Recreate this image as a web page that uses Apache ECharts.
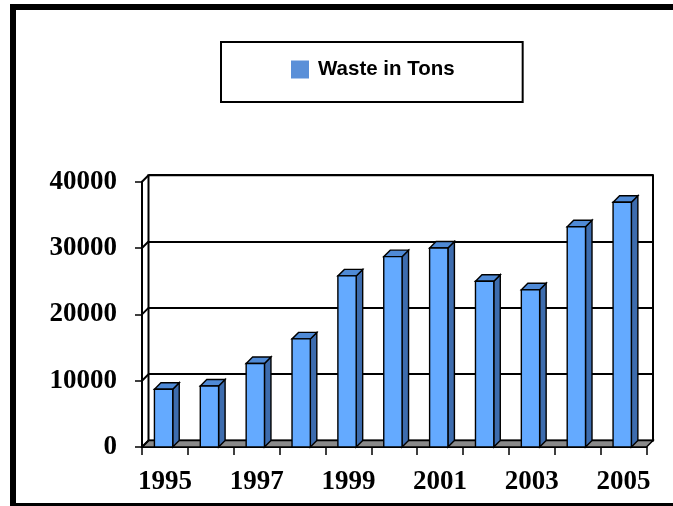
<!DOCTYPE html>
<html>
<head>
<meta charset="utf-8">
<script src="https://cdn.jsdelivr.net/npm/echarts@6/dist/echarts.min.js"></script>
<style>
  html, body { margin: 0; padding: 0; background: #fff; }
  #chart { width: 673px; height: 506px; }
</style>
</head>
<body>
<div id="chart"></div>
<script>
// Yearly waste totals
const years = ['1995', '1996', '1997', '1998', '1999', '2000', '2001', '2002', '2003', '2004', '2005'];
const waste = [8700, 9200, 12600, 16300, 25800, 28700, 30000, 25000, 23700, 33200, 36900];
const yTicks = [0, 10000, 20000, 30000, 40000];
const seriesName = 'Waste in Tons';

// depth of the pseudo-3D box (pixels, up and to the right)
const DEPTH = 6.5;

const chart = echarts.init(document.getElementById('chart'), null, { renderer: 'canvas' });

const axisFont = {
  fontFamily: 'Liberation Serif',
  fontWeight: 'bold',
  fontSize: 27,
  color: '#000'
};

// Left wall diagonals at every gridline, plus the grey floor slab
function renderWall(params, api) {
  const v = api.value(1);
  const bw = api.size([1, 0])[0];
  const p = api.coord([0, v]);
  const xl = p[0] - bw / 2;
  const children = [{
    type: 'line',
    shape: { x1: xl, y1: p[1], x2: xl + DEPTH, y2: p[1] - DEPTH },
    style: { stroke: '#000', lineWidth: 2 }
  }];
  if (v === 0) {
    const pr = api.coord([years.length - 1, 0]);
    const xr = pr[0] + bw / 2;
    children.unshift({
      type: 'polygon',
      shape: { points: [[xl, p[1]], [xr, p[1]], [xr + DEPTH, p[1] - DEPTH], [xl + DEPTH, p[1] - DEPTH]] },
      style: { fill: '#8a8a8a', stroke: '#000', lineWidth: 1.5 }
    });
  }
  return { type: 'group', children: children };
}

// Column drawn as front face, right side and top
function renderBar(params, api) {
  const c = api.coord([api.value(0), api.value(1)]);
  const base = api.coord([api.value(0), 0]);
  const x0 = c[0] - 10.5;
  const x1 = c[0] + 7.8;
  const yt = c[1];
  const yb = base[1];
  const d = DEPTH;
  const edge = { stroke: '#000', lineWidth: 1.4 };
  return {
    type: 'group',
    children: [
      {
        type: 'polygon',
        shape: { points: [[x1, yt], [x1 + d, yt - d], [x1 + d, yb - d], [x1, yb]] },
        style: Object.assign({ fill: '#3d6cae' }, edge)
      },
      {
        type: 'polygon',
        shape: { points: [[x0, yt], [x1, yt], [x1 + d, yt - d], [x0 + d, yt - d]] },
        style: Object.assign({ fill: '#4f8ad6' }, edge)
      },
      {
        type: 'rect',
        shape: { x: x0, y: yt, width: x1 - x0, height: yb - yt },
        style: Object.assign({ fill: '#64aaff' }, edge)
      }
    ]
  };
}

const option = {
  animation: false,
  backgroundColor: '#fff',
  graphic: [{
    type: 'rect',
    z: 100,
    shape: { x: 13, y: 7, width: 700, height: 499 },
    style: { fill: 'none', stroke: '#000', lineWidth: 6 }
  }],
  legend: {
    data: [{ name: seriesName, icon: 'rect', itemStyle: { color: '#5a8fd8' } }],
    left: 221,
    top: 42,
    padding: [17, 68, 22, 70],
    itemWidth: 18,
    itemHeight: 18,
    itemGap: 0,
    borderColor: '#000',
    borderWidth: 2,
    textStyle: {
      fontFamily: 'Liberation Sans',
      fontWeight: 'bold',
      fontSize: 20.5,
      color: '#000',
      padding: [6, 0, 0, 4]
    }
  },
  grid: [
    // front plane: axes, labels, columns
    { left: 142, right: 26.5, top: 181.7, bottom: 59 },
    // back wall: gridlines and frame
    { left: 148.5, right: 20, top: 175.2, bottom: 65.5, show: true, borderColor: '#000', borderWidth: 2, backgroundColor: 'transparent' }
  ],
  xAxis: [
    {
      type: 'category',
      gridIndex: 0,
      data: years,
      boundaryGap: true,
      axisLine: { show: true, lineStyle: { color: '#000', width: 2 } },
      axisTick: { show: true, interval: 0, length: 8, lineStyle: { color: '#000', width: 1.5 } },
      axisLabel: Object.assign({ interval: 1, margin: 22 }, axisFont),
      splitLine: { show: false }
    },
    {
      type: 'category',
      gridIndex: 1,
      data: years,
      show: false
    }
  ],
  yAxis: [
    {
      type: 'value',
      gridIndex: 0,
      min: 0,
      max: 40000,
      interval: 10000,
      axisLine: { show: true, lineStyle: { color: '#000', width: 2 } },
      axisTick: { show: true, length: 7, lineStyle: { color: '#000', width: 1.5 } },
      axisLabel: Object.assign({ margin: 25, formatter: function (v) { return String(v); } }, axisFont),
      splitLine: { show: false }
    },
    {
      type: 'value',
      gridIndex: 1,
      min: 0,
      max: 40000,
      interval: 10000,
      axisLine: { show: false },
      axisTick: { show: false },
      axisLabel: { show: false },
      splitLine: { show: true, lineStyle: { color: '#000', width: 2 } }
    }
  ],
  series: [
    {
      name: 'wall',
      type: 'custom',
      xAxisIndex: 0,
      yAxisIndex: 0,
      z: 1,
      silent: true,
      renderItem: renderWall,
      data: yTicks.map(function (v) { return [0, v]; })
    },
    {
      name: seriesName,
      type: 'custom',
      xAxisIndex: 0,
      yAxisIndex: 0,
      z: 5,
      itemStyle: { color: '#5a8fd8' },
      renderItem: renderBar,
      data: waste.map(function (v, i) { return [i, v]; })
    }
  ]
};

chart.setOption(option);
</script>
</body>
</html>
